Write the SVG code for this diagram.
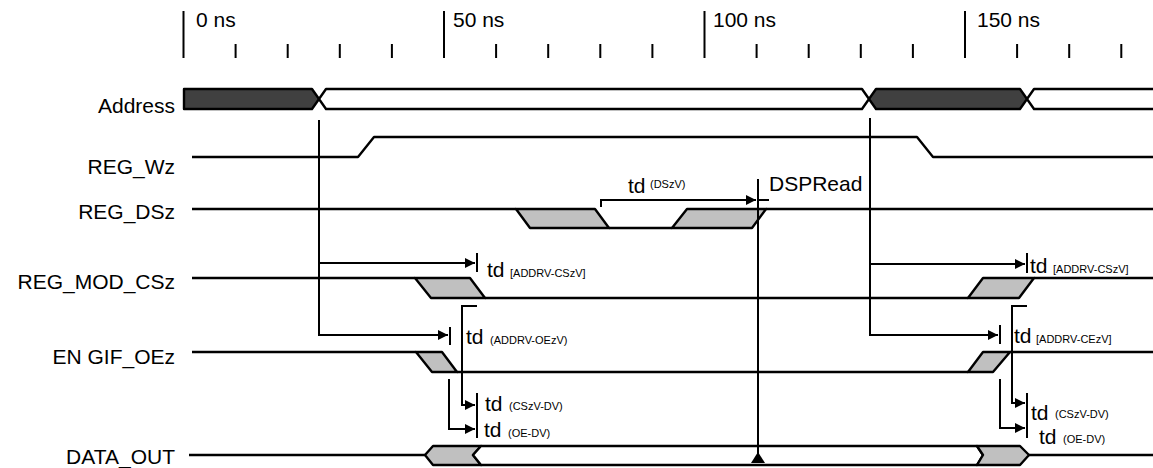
<svg xmlns="http://www.w3.org/2000/svg" width="1153" height="468" viewBox="0 0 1153 468">
<style>
text{font-family:"Liberation Sans",Arial,sans-serif;fill:#000}
.lbl{font-size:21px;text-anchor:end}
.scale{font-size:21px}
.td{font-size:21px}
.sub{font-size:11px}
.w{fill:none;stroke:#000;stroke-width:2.4;stroke-linejoin:round}
.g{fill:#c0c0c0;stroke:#000;stroke-width:2.4;stroke-linejoin:round}
.d{fill:#404040;stroke:#000;stroke-width:2.4;stroke-linejoin:round}
.wh{fill:#fff;stroke:#000;stroke-width:2.4;stroke-linejoin:round}
.c{fill:none;stroke:#000;stroke-width:2}
.tk{stroke:#000;stroke-width:2}
</style>
<defs>
<marker id="arr" markerUnits="userSpaceOnUse" markerWidth="10" markerHeight="10" refX="10" refY="5" orient="auto">
<path d="M0,0 L10,5 L0,10 Z" fill="#000"/>
</marker>
</defs>
<rect width="1153" height="468" fill="#fff"/>
<g id="timescale">
<path class="tk" d="M183.5,11V58M444,11V58M704.5,11V58M965,11V58"/>
<path class="tk" d="M235.6,44V58M287.7,44V58M339.8,44V58M391.9,44V58M496.1,44V58M548.2,44V58M600.3,44V58M652.4,44V58M756.6,44V58M808.7,44V58M860.8,44V58M912.9,44V58M1017.1,44V58M1069.2,44V58M1121.3,44V58"/>
<text class="scale" x="196" y="27">0 ns</text>
<text class="scale" x="453" y="27">50 ns</text>
<text class="scale" x="713" y="27">100 ns</text>
<text class="scale" x="977" y="27">150 ns</text>
</g>
<g id="sig-address">
<text class="lbl" x="175" y="113">Address</text>
<polygon class="d" points="184,89 312,89 319,99 312,109 184,109"/>
<polygon class="wh" points="319,99 326,89 862,89 869,99 862,109 326,109"/>
<polygon class="d" points="869,99 876,89 1020,89 1027,99 1020,109 876,109"/>
<path class="w" d="M1153,89H1034L1027,99L1034,109H1153"/>
</g>
<g id="sig-reg-wz">
<text class="lbl" x="175" y="174">REG_Wz</text>
<polyline class="w" points="192,157 358,157 374,137 917,137 933,157 1153,157"/>
</g>
<g id="sig-reg-dsz">
<text class="lbl" x="175" y="219">REG_DSz</text>
<polyline class="w" points="192,209 516,209"/>
<polygon class="g" points="516,209 595,209 609,228 530,228"/>
<polyline class="w" points="609,228 672,228"/>
<polygon class="g" points="672,228 687,209 766,209 752,228"/>
<polyline class="w" points="766,209 1153,209"/>
</g>
<g id="sig-reg-mod-csz">
<text class="lbl" x="175" y="289">REG_MOD_CSz</text>
<polyline class="w" points="192,278 415,278"/>
<polygon class="g" points="415,278 470,278 485,298 431,298"/>
<polyline class="w" points="485,298 968,298"/>
<polygon class="g" points="968,298 983,278 1034,278 1019,298"/>
<polyline class="w" points="1034,278 1153,278"/>
</g>
<g id="sig-en-gif-oez">
<text class="lbl" x="175" y="364">EN GIF_OEz</text>
<polyline class="w" points="192,352 416,352"/>
<polygon class="g" points="416,352 442,352 457,372 432,372"/>
<polyline class="w" points="457,372 968,372"/>
<polygon class="g" points="968,372 983,352 1010,352 993,372"/>
<polyline class="w" points="1010,352 1153,352"/>
</g>
<g id="sig-data-out">
<text class="lbl" x="175" y="464">DATA_OUT</text>
<polyline class="w" points="189,455 425,455"/>
<polygon class="g" points="425,455 433,446 481,446 473,455 481,465 433,465"/>
<path class="wh" d="M481,446H977L983,455L977,465H481L473,455Z"/>
<polygon class="g" points="977,446 1020,446 1029,455 1020,465 977,465 983,455"/>
<polyline class="w" points="1029,455 1153,455"/>
</g>
<g id="connectors">
<path class="c" d="M319,120V335H448" marker-end="url(#arr)"/>
<path class="c" d="M319,263H475" marker-end="url(#arr)"/>
<path class="c" d="M477,253V272"/>
<path class="c" d="M450,327V345"/>
<path class="c" d="M477,306H462V405H475" marker-end="url(#arr)"/>
<path class="c" d="M449,379V429H475" marker-end="url(#arr)"/>
<path class="c" d="M477,393V438"/>
<path class="c" d="M870,118V335H998" marker-end="url(#arr)"/>
<path class="c" d="M870,264H1025" marker-end="url(#arr)"/>
<path class="c" d="M1027,253V273"/>
<path class="c" d="M1000,325V344"/>
<path class="c" d="M1027,306H1012V403H1025" marker-end="url(#arr)"/>
<path class="c" d="M1000,379V428H1025" marker-end="url(#arr)"/>
<path class="c" d="M1027,393V438"/>
<path class="c" d="M601,207V200H756" marker-end="url(#arr)"/>
<path class="c" d="M758,200H769"/>
<path class="c" d="M758,179V462"/>
<polygon points="758,452 751,463 765,463" fill="#000"/>
</g>
<g id="annotations">
<text class="td" x="628" y="193">td</text><text class="sub" x="650" y="188">(DSzV)</text>
<text class="td" x="769" y="191">DSPRead</text>
<text class="td" x="487" y="277">td</text><text class="sub" x="510" y="277">[ADDRV-CSzV]</text>
<text class="td" x="1030" y="273">td</text><text class="sub" x="1053" y="273">[ADDRV-CSzV]</text>
<text class="td" x="466" y="344">td</text><text class="sub" x="490" y="344">(ADDRV-OEzV)</text>
<text class="td" x="1014" y="343">td</text><text class="sub" x="1036" y="343">[ADDRV-CEzV]</text>
<text class="td" x="485" y="411">td</text><text class="sub" x="509" y="410">(CSzV-DV)</text>
<text class="td" x="484" y="437">td</text><text class="sub" x="508" y="437">(OE-DV)</text>
<text class="td" x="1031" y="420">td</text><text class="sub" x="1055" y="418">(CSzV-DV)</text>
<text class="td" x="1039" y="444">td</text><text class="sub" x="1063" y="443">(OE-DV)</text>
</g>
</svg>
